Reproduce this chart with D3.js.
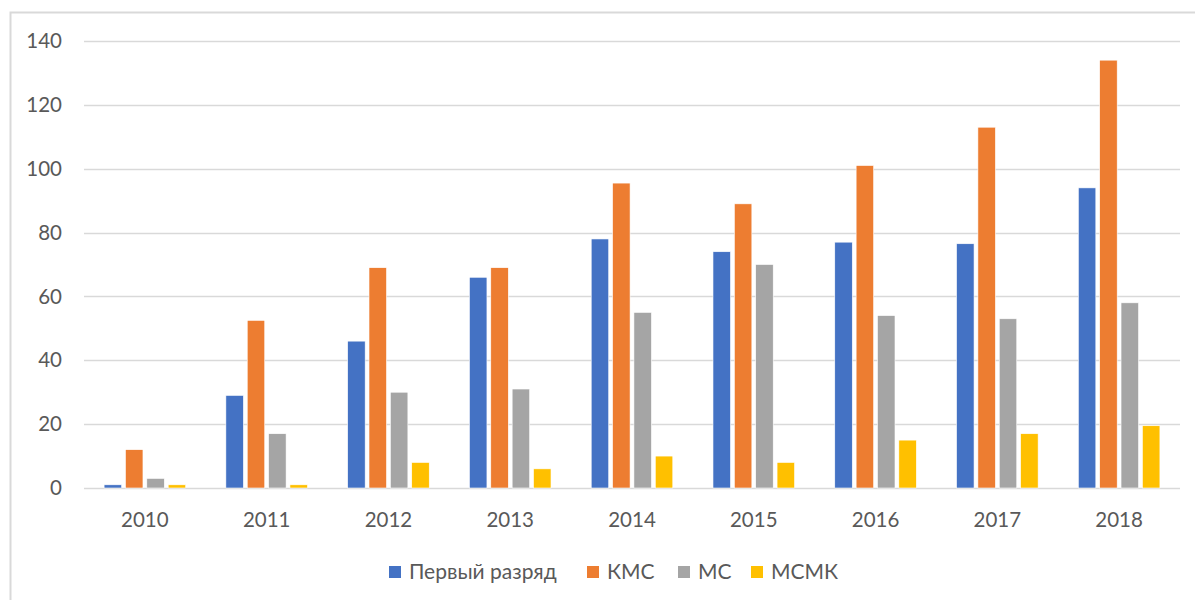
<!DOCTYPE html>
<html>
<head>
<meta charset="utf-8">
<script src="https://cdn.jsdelivr.net/npm/d3@7"></script>
<style>
  body { margin: 0; background: #fff; }
  text { font-family: Lato, "Open Sans", sans-serif; fill: #595959; }
</style>
</head>
<body>
<div id="chart"></div>
<script>
// Data
const years = ["2010", "2011", "2012", "2013", "2014", "2015", "2016", "2017", "2018"];
const seriesNames = ["Первый разряд", "КМС", "МС", "МСМК"];
const firstRank = [1, 29, 46, 66, 78, 74, 77, 76.5, 94];
const kms = [12, 52.5, 69, 69, 95.5, 89, 101, 113, 134];
const ms = [3, 17, 30, 31, 55, 70, 54, 53, 58];
const msmk = [1, 1, 8, 6, 10, 8, 15, 17, 19.5];
const yTicks = [0, 20, 40, 60, 80, 100, 120, 140];
const colors = ["#4472C4", "#ED7D31", "#A5A5A5", "#FFC000"];

const seriesValues = [firstRank, kms, ms, msmk];
const rows = years.map((y, i) => ({
  year: y,
  values: seriesNames.map((s, j) => ({ key: s, value: seriesValues[j][i] }))
}));

const width = 1195, height = 600;
const margin = { top: 41, right: 15, bottom: 112, left: 84 };
const fontSize = "20.5px";

const svg = d3.select("#chart").append("svg")
  .attr("width", width)
  .attr("height", height);

// outer chart frame (runs off right and bottom)
svg.append("path")
  .attr("d", `M10.5,${height + 2} V12.5 H${width + 2}`)
  .attr("fill", "none")
  .attr("stroke", "#d9d9d9")
  .attr("stroke-width", 2);

const x0 = d3.scaleBand()
  .domain(years)
  .range([margin.left, width - margin.right])
  .paddingInner(0.33)
  .paddingOuter(0.165);

const x1 = d3.scaleBand()
  .domain(seriesNames)
  .range([0, x0.bandwidth()])
  .paddingInner(0.18);

const y = d3.scaleLinear()
  .domain([0, 140])
  .range([height - margin.bottom, margin.top]);

// gridlines
svg.append("g")
  .selectAll("line")
  .data(yTicks)
  .join("line")
  .attr("x1", margin.left)
  .attr("x2", width - margin.right)
  .attr("y1", d => Math.round(y(d)) + 0.5)
  .attr("y2", d => Math.round(y(d)) + 0.5)
  .attr("stroke", "#d9d9d9")
  .attr("stroke-width", 1.5);

// y tick labels
svg.append("g")
  .selectAll("text")
  .data(yTicks)
  .join("text")
  .attr("x", 62)
  .attr("y", d => y(d))
  .attr("dy", "0.35em")
  .attr("text-anchor", "end")
  .style("font-size", fontSize)
  .text(d => d);

// bars
const groups = svg.append("g")
  .selectAll("g")
  .data(rows)
  .join("g")
  .attr("transform", d => `translate(${x0(d.year)},0)`);

groups.selectAll("rect")
  .data(d => d.values)
  .join("rect")
  .attr("x", d => x1(d.key))
  .attr("width", x1.bandwidth())
  .attr("y", d => y(d.value))
  .attr("height", d => y(0) - y(d.value))
  .attr("fill", (d, i) => colors[i])
  .attr("stroke", "#fff")
  .attr("stroke-width", 0.6);

// x labels
svg.append("g")
  .selectAll("text")
  .data(years)
  .join("text")
  .attr("x", d => x0(d) + x0.bandwidth() / 2)
  .attr("y", 527)
  .attr("text-anchor", "middle")
  .style("font-size", fontSize)
  .text(d => d);

// legend
const legendX = [389, 587, 678, 751];
const legend = svg.append("g")
  .selectAll("g")
  .data(seriesNames)
  .join("g")
  .attr("transform", (d, i) => `translate(${legendX[i]},566)`);

legend.append("rect")
  .attr("width", 12)
  .attr("height", 12)
  .attr("fill", (d, i) => colors[i]);

legend.append("text")
  .attr("x", 20)
  .attr("y", 6)
  .attr("dy", "0.35em")
  .style("font-size", "21px")
  .text(d => d);
</script>
</body>
</html>
